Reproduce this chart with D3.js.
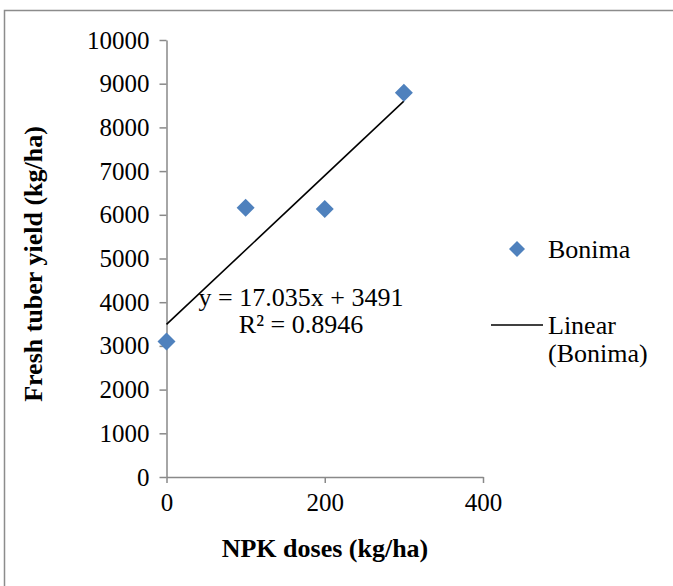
<!DOCTYPE html>
<meta charset="utf-8">
<style>
body { margin: 0; background: #fff; }
text { font-family: "Liberation Serif", "Times New Roman", serif; fill: #000; }
.axis path, .axis line { stroke: #898989; stroke-width: 1.5px; }
.axis text { font-size: 25px; }
.title { font-size: 26px; font-weight: bold; }
</style>
<body>
<script src="https://d3js.org/d3.v7.min.js"></script>
<script>

// data
var doses = [0, 100, 200, 300];
var yieldVals = [3100, 6160, 6130, 8795];
var xTicks = [0, 200, 400];
var yTicks = [0, 1000, 2000, 3000, 4000, 5000, 6000, 7000, 8000, 9000, 10000];
var trend = { slope: 17.035, intercept: 3491, r2: 0.8946 };
var seriesName = "Bonima";

var width = 673, height = 586;

var svg = d3.select("body").append("svg")
    .attr("width", width)
    .attr("height", height);

// outer chart border (cut off right/bottom like the original)
svg.append("rect")
    .attr("x", 4.5).attr("y", 10.5)
    .attr("width", 700).attr("height", 600)
    .attr("fill", "none")
    .attr("stroke", "#8c8c8c")
    .attr("stroke-width", 1.5);

var x = d3.scaleLinear().domain([0, 400]).range([166.5, 483]);
var y = d3.scaleLinear().domain([0, 10000]).range([477, 40]);

// y axis
svg.append("g")
    .attr("class", "axis")
    .attr("transform", "translate(" + x(0) + ",0)")
    .call(d3.axisLeft(y).tickValues(yTicks).tickFormat(d3.format("d"))
      .tickSize(7).tickSizeOuter(0).tickPadding(10));

// x axis
svg.append("g")
    .attr("class", "axis")
    .attr("transform", "translate(0," + y(0) + ")")
    .call(d3.axisBottom(x).tickValues(xTicks).tickFormat(d3.format("d"))
      .tickSize(6).tickSizeOuter(0).tickPadding(10));

// trend line
var trendLine = d3.line()
    .x(function(d) { return x(d); })
    .y(function(d) { return y(trend.slope * d + trend.intercept); });

svg.append("path")
    .datum([d3.min(doses), d3.max(doses)])
    .attr("d", trendLine)
    .attr("fill", "none")
    .attr("stroke", "#000")
    .attr("stroke-width", 1.6);

// diamond markers
function diamond(r) {
  return "M0," + (-r) + "L" + r + ",0L0," + r + "L" + (-r) + ",0Z";
}

svg.selectAll(".pt")
    .data(doses)
    .enter().append("path")
    .attr("class", "pt")
    .attr("d", diamond(9))
    .attr("transform", function(d, i) { return "translate(" + x(d) + "," + y(yieldVals[i]) + ")"; })
    .attr("fill", "#4f81bd");

// equation label
svg.append("text")
    .attr("x", 301).attr("y", 306)
    .attr("text-anchor", "middle")
    .style("font-size", "26px")
    .text("y = " + trend.slope + "x + " + trend.intercept);

svg.append("text")
    .attr("x", 301).attr("y", 333)
    .attr("text-anchor", "middle")
    .style("font-size", "26px")
    .text("R\u00b2 = " + trend.r2);

// axis titles
svg.append("text")
    .attr("class", "title")
    .attr("x", 325).attr("y", 557)
    .attr("text-anchor", "middle")
    .text("NPK doses (kg/ha)");

svg.append("text")
    .attr("class", "title")
    .attr("transform", "translate(42,264) rotate(-90)")
    .attr("text-anchor", "middle")
    .text("Fresh tuber yield (kg/ha)");

// legend
svg.append("path")
    .attr("d", diamond(8))
    .attr("transform", "translate(517,249)")
    .attr("fill", "#4f81bd");

svg.append("text")
    .attr("x", 548).attr("y", 258)
    .style("font-size", "26px")
    .text(seriesName);

svg.append("line")
    .attr("x1", 491).attr("x2", 543)
    .attr("y1", 325).attr("y2", 325)
    .attr("stroke", "#000")
    .attr("stroke-width", 1.6);

svg.append("text")
    .attr("x", 548).attr("y", 334)
    .style("font-size", "26px")
    .text("Linear");

svg.append("text")
    .attr("x", 548).attr("y", 362)
    .style("font-size", "26px")
    .text("(" + seriesName + ")");

</script>
</body>
